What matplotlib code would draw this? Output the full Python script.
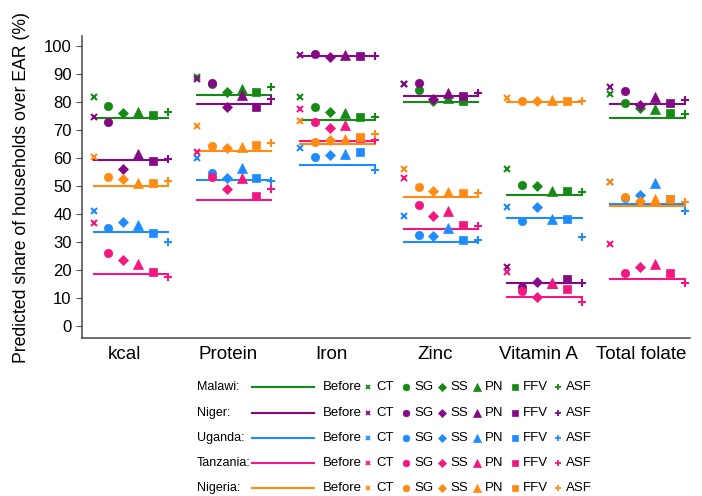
import matplotlib.pyplot as plt
import numpy as np

plt.rcParams['font.family'] = ['Liberation Sans', 'DejaVu Sans']

nutrients = ["kcal", "Protein", "Iron", "Zinc", "Vitamin A", "Total folate"]
scenarios = ["CT", "SG", "SS", "PN", "FFV", "ASF"]
countries = ["Malawi", "Niger", "Uganda", "Tanzania", "Nigeria"]

# rows = nutrients, columns = Before, CT, SG, SS, PN, FFV, ASF
malawi = [
    [74.4, 81.9, 78.6, 76.0, 76.3, 75.4, 76.5],
    [82.6, 88.8, 86.5, 83.6, 84.5, 83.4, 85.5],
    [73.6, 81.7, 78.1, 76.5, 75.9, 74.5, 74.8],
    [80.0, 86.4, 84.3, 80.5, 81.3, 80.2, 83.1],
    [46.9, 56.2, 50.2, 50.0, 48.2, 48.2, 48.0],
    [74.4, 82.7, 79.5, 78.0, 77.4, 75.9, 75.7],
]
niger = [
    [59.3, 74.5, 72.9, 56.0, 61.3, 58.9, 59.5],
    [79.4, 88.1, 86.7, 78.3, 82.5, 78.3, 81.1],
    [96.4, 96.7, 97.0, 96.2, 96.8, 96.3, 96.4],
    [82.1, 86.4, 86.7, 81.1, 83.3, 82.1, 83.1],
    [15.5, 21.0, 14.0, 15.8, 15.5, 16.8, 15.2],
    [79.4, 85.2, 83.9, 78.9, 81.7, 79.5, 80.7],
]
uganda = [
    [33.5, 41.2, 35.1, 37.0, 36.1, 33.1, 30.0],
    [52.1, 59.9, 54.8, 52.7, 56.5, 52.7, 51.9],
    [57.6, 63.5, 60.5, 61.0, 61.4, 62.0, 55.7],
    [30.1, 39.3, 32.5, 32.3, 35.1, 30.7, 30.7],
    [38.5, 42.4, 37.4, 42.4, 38.1, 38.1, 31.7],
    [43.4, 51.5, 45.6, 46.8, 51.0, 45.5, 41.1],
]
tanzania = [
    [18.7, 36.7, 26.2, 23.5, 22.1, 19.2, 17.4],
    [45.1, 62.1, 53.1, 48.9, 52.7, 46.4, 48.9],
    [66.1, 77.6, 72.7, 70.8, 71.8, 67.3, 66.4],
    [34.6, 52.7, 43.1, 39.3, 41.1, 36.1, 35.8],
    [10.2, 19.4, 12.4, 10.2, 15.5, 13.3, 8.7],
    [16.9, 29.3, 19.0, 21.2, 22.1, 18.8, 15.2],
]
nigeria = [
    [49.9, 60.2, 53.1, 52.4, 51.2, 51.2, 51.9],
    [62.6, 71.4, 64.3, 63.5, 63.8, 64.5, 65.5],
    [64.9, 73.3, 65.8, 66.4, 66.7, 67.6, 68.6],
    [46.2, 56.1, 49.8, 48.3, 47.7, 47.4, 47.6],
    [80.1, 81.3, 80.5, 80.5, 80.7, 80.2, 80.2],
    [43.0, 51.5, 46.2, 44.8, 45.2, 45.4, 44.4],
]

all_data = [malawi, niger, uganda, tanzania, nigeria]
colors = ["#158a15", "#850985", "#1e8cff", "#f5167f", "#ff8b12"]
markers = ["x", "o", "D", "^", "s", "+"]
msizes = [4, 6, 5.5, 6.5, 6, 6]

offsets = np.linspace(-0.30, 0.42, 6)

fig = plt.figure(figsize=(7.02, 4.96), dpi=100)
ax = fig.add_axes([0.117, 0.3185, 0.866, 0.6085])

for data, col in zip(all_data, colors):
    for i in range(len(nutrients)):
        row = data[i]
        ax.plot([i + offsets[0], i + offsets[-1]], [row[0], row[0]],
                color=col, lw=1.5, zorder=2)
        for k in range(6):
            ax.plot(i + offsets[k], row[k + 1], marker=markers[k], color=col,
                    ms=msizes[k], mew=1.5 if k in (0, 5) else 0.5,
                    ls='none', zorder=3)

ax.set_xlim(-0.41, 5.47)
ax.set_ylim(-4.3, 103.5)
ax.set_yticks(range(0, 101, 10))
ax.set_xticks(range(len(nutrients)))
ax.set_xticklabels(nutrients, fontsize=13.5)
ax.tick_params(axis='x', length=0, pad=6)
ax.tick_params(axis='y', labelsize=12, length=4, color='#555555')
ax.set_ylabel("Predicted share of households over EAR (%)", fontsize=12.7,
              labelpad=10)
for s in ['top', 'right']:
    ax.spines[s].set_visible(False)
for s in ['left', 'bottom']:
    ax.spines[s].set_color('#555555')
    ax.spines[s].set_linewidth(1.2)

# legend block drawn in pixel coordinates
leg = fig.add_axes([0, 0, 1, 1])
leg.set_xlim(0, 702)
leg.set_ylim(496, 0)
leg.axis('off')
rows_y = [387, 413, 438, 463, 488]
mk_x = [368, 406, 442, 477, 515, 558]
for j, (name, col) in enumerate(zip(countries, colors)):
    y = rows_y[j]
    leg.text(197, y, name + ":", fontsize=9, va='center', ha='left')
    leg.plot([252, 314], [y, y], color=col, lw=1.5)
    leg.text(323, y, "Before", fontsize=9.5, va='center', ha='left')
    for k in range(6):
        leg.plot(mk_x[k], y, marker=markers[k], color=col,
                 ms=msizes[k] * 0.8, mew=1.3 if k in (0, 5) else 0.5, ls='none')
        leg.text(mk_x[k] + 8, y, scenarios[k], fontsize=9.5, va='center', ha='left')

fig.savefig("out.png", dpi=100)
